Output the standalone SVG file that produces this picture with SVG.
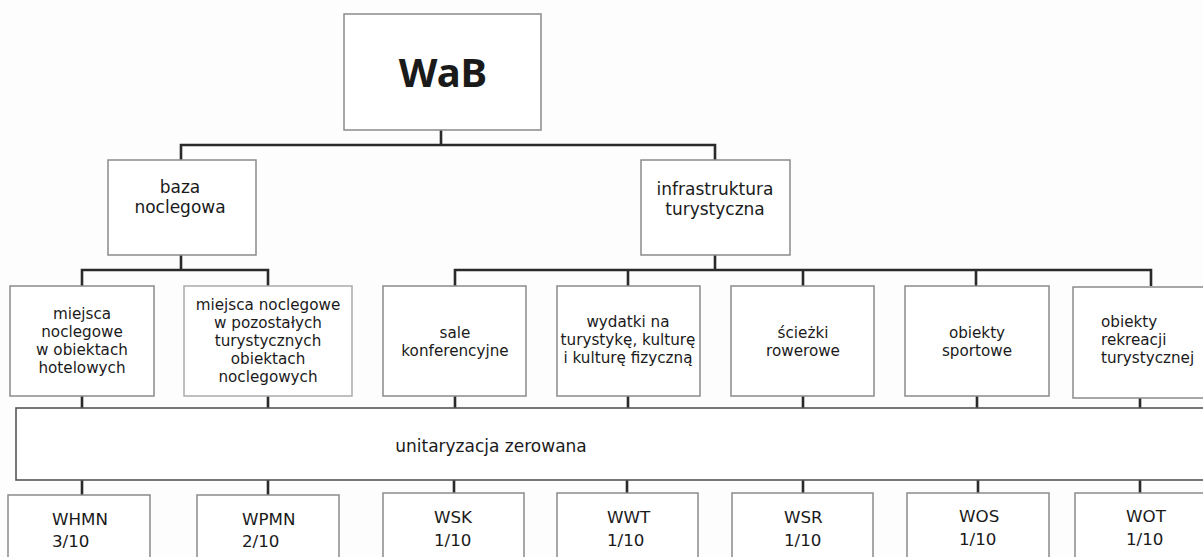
<svg xmlns="http://www.w3.org/2000/svg" width="1203" height="557" viewBox="0 0 1203 557">
<style>
.box{fill:#ffffff;stroke:#8a8a8a;stroke-width:1.5}
.ubox{fill:#ffffff;stroke:#555555;stroke-width:1.6}
.con{fill:none;stroke:#2a2a2a;stroke-width:2.6}
text{font-family:"DejaVu Sans","Noto Sans",sans-serif;fill:#1a1a1a}
.t2{font-size:17px;text-anchor:middle}
.t3{font-size:15.2px;text-anchor:middle}
.tl{font-size:15.2px;text-anchor:start}
.tu{font-size:17px;text-anchor:middle}
.tb{font-size:16.7px;text-anchor:start}
</style>
<rect x="0" y="0" width="1203" height="557" fill="#fdfdfd"/>
<g id="connectors">
<path class="con" d="M441 130 V145 M181 160 V145 H715 V160"/>
<path class="con" d="M181 255 V270 M82 286 V270 H268 V286"/>
<path class="con" d="M715 255 V270 M455 286 V270 H1151 V286 M628 270 V286 M803 270 V286 M976 270 V286"/>
<path class="con" d="M82 396 V408 M268 396 V408 M455 396 V408 M628 396 V408 M803 396 V408 M977 396 V408 M1140 398 V408"/>
<path class="con" d="M82 480 V495 M268 480 V495 M454 480 V493 M627 480 V493 M803 480 V493 M978 480 V493 M1140 480 V493"/>
</g>
<g id="wab">
<rect class="box" x="344" y="14" width="197" height="116"/>
<text x="443" y="87" style="font-family:'Noto Sans','DejaVu Sans',sans-serif;font-size:40px;font-weight:bold;text-anchor:middle">WaB</text>
</g>
<g id="baza">
<rect class="box" x="108" y="160" width="148" height="95"/>
<text class="t2" x="180" y="193">baza</text>
<text class="t2" x="180" y="213">noclegowa</text>
</g>
<g id="infra">
<rect class="box" x="641" y="160" width="149" height="95"/>
<text class="t2" x="715" y="195">infrastruktura</text>
<text class="t2" x="715" y="215">turystyczna</text>
</g>
<g id="hotel">
<rect class="box" x="10" y="286" width="144" height="110"/>
<text class="t3" x="82" y="319">miejsca</text>
<text class="t3" x="82" y="337">noclegowe</text>
<text class="t3" x="82" y="355">w obiektach</text>
<text class="t3" x="82" y="373">hotelowych</text>
</g>
<g id="pozostale">
<rect class="box" x="184" y="286" width="168" height="110" style="stroke:#aaaaaa"/>
<text class="t3" x="268" y="310">miejsca noclegowe</text>
<text class="t3" x="268" y="328">w pozostałych</text>
<text class="t3" x="268" y="346">turystycznych</text>
<text class="t3" x="268" y="364">obiektach</text>
<text class="t3" x="268" y="382">noclegowych</text>
</g>
<g id="sale">
<rect class="box" x="383" y="286" width="143" height="110"/>
<text class="t3" x="455" y="338">sale</text>
<text class="t3" x="455" y="356">konferencyjne</text>
</g>
<g id="wydatki">
<rect class="box" x="557" y="286" width="143" height="110"/>
<text class="t3" x="628" y="327">wydatki na</text>
<text class="t3" x="628" y="345">turystykę, kulturę</text>
<text class="t3" x="628" y="363">i kulturę fizyczną</text>
</g>
<g id="sciezki">
<rect class="box" x="731" y="286" width="143" height="110"/>
<text class="t3" x="803" y="338">ścieżki</text>
<text class="t3" x="803" y="356">rowerowe</text>
</g>
<g id="sportowe">
<rect class="box" x="905" y="286" width="144" height="110"/>
<text class="t3" x="977" y="338">obiekty</text>
<text class="t3" x="977" y="356">sportowe</text>
</g>
<g id="rekreacja">
<rect class="box" x="1073" y="287" width="145" height="111"/>
<text class="tl" x="1101" y="327">obiekty</text>
<text class="tl" x="1101" y="345">rekreacji</text>
<text class="tl" x="1101" y="363">turystycznej</text>
</g>
<g id="unitaryzacja">
<rect class="ubox" x="16" y="408" width="1200" height="72"/>
<text class="tu" x="491" y="452">unitaryzacja zerowana</text>
</g>
<g id="whmn">
<rect class="box" x="8" y="495" width="142" height="80"/>
<text class="tb" x="52" y="525">WHMN</text>
<text class="tb" x="52" y="547">3/10</text>
</g>
<g id="wpmn">
<rect class="box" x="197" y="495" width="142" height="80"/>
<text class="tb" x="242" y="525">WPMN</text>
<text class="tb" x="242" y="547">2/10</text>
</g>
<g id="wsk">
<rect class="box" x="383" y="493" width="141" height="80"/>
<text class="tb" x="434" y="523">WSK</text>
<text class="tb" x="434" y="546">1/10</text>
</g>
<g id="wwt">
<rect class="box" x="557" y="493" width="141" height="80"/>
<text class="tb" x="607" y="523">WWT</text>
<text class="tb" x="607" y="546">1/10</text>
</g>
<g id="wsr">
<rect class="box" x="732" y="493" width="141" height="80"/>
<text class="tb" x="784" y="523">WSR</text>
<text class="tb" x="784" y="546">1/10</text>
</g>
<g id="wos">
<rect class="box" x="907" y="493" width="142" height="80"/>
<text class="tb" x="959" y="522">WOS</text>
<text class="tb" x="959" y="545">1/10</text>
</g>
<g id="wot">
<rect class="box" x="1075" y="493" width="145" height="80"/>
<text class="tb" x="1126" y="522">WOT</text>
<text class="tb" x="1126" y="545">1/10</text>
</g>
</svg>
